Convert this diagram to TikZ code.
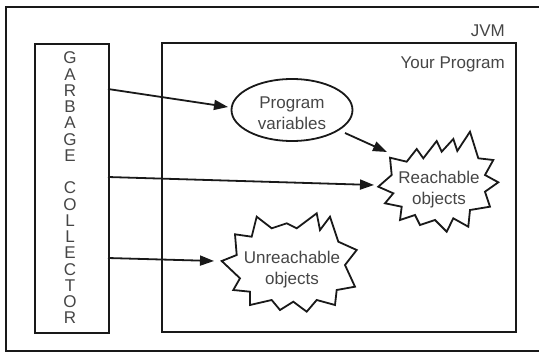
\documentclass[tikz,border=0pt]{standalone}
\usepackage{fontspec}
\setmainfont{Liberation Sans}
\usetikzlibrary{arrows.meta,shapes.geometric}
\definecolor{lin}{RGB}{25,25,25}
\definecolor{txt}{RGB}{70,70,70}
\tikzset{
  boxline/.style={draw=lin, line width=2pt},
  lbl/.style={text=txt, font=\fontsize{17}{21}\selectfont, inner sep=0pt},
  burst/.style={draw=lin, line width=1.8pt, line join=miter, fill=white},
  conn/.style={draw=lin, line width=1.8pt, -{Triangle[length=14pt,width=10pt]}},
}
\begin{document}
\begin{tikzpicture}[x=1pt,y=-1pt]
\clip (0,0) rectangle (539,356);
\fill[white] (0,0) rectangle (539,356);
% outer JVM frame (right side runs off the picture)
\draw[boxline] (560,7) -- (6,7) -- (6,351) -- (560,351);
\node[lbl, anchor=base east] (jvm) at (505,36) {JVM};
% Your Program box
\draw[boxline] (162,43) rectangle (516,332);
\node[lbl, anchor=base east] (yp) at (505,68) {Your Program};
% Garbage collector box
\node[boxline, minimum width=74pt, minimum height=289pt, anchor=north west, inner sep=0pt] (gc) at (34,43) {};
\node[text=txt, font=\fontsize{17}{16.25}\selectfont, align=center, inner sep=0pt] (gctext) at (70,188)
  {G\\A\\R\\B\\A\\G\\E\\[16.25pt]C\\O\\L\\L\\E\\C\\T\\O\\R};
% Program variables ellipse
\node[ellipse, draw=lin, line width=1.8pt, minimum width=121pt, minimum height=62pt, inner sep=0pt] (pv) at (292,110) {};
\node[lbl, align=center] (pvt) at (292,113) {Program\\variables};
% Reachable objects starburst
\draw[burst] (378.3,186.7) -- (391.7,175) -- (390,157.7) -- (406.7,161.7) -- (416.7,149) -- (423.3,158.3)
  -- (436.7,141) -- (441.7,151.7) -- (453.3,139) -- (457.3,151) -- (470,131.7) -- (478.3,158.3)
  -- (493.3,160) -- (485,175) -- (498.3,182.3) -- (485,191.7) -- (490,206.7) -- (470,210)
  -- (468.3,226.7) -- (453.3,218.3) -- (446.7,231.7) -- (435,220) -- (420,225) -- (415,215)
  -- (400,220) -- (401.7,206.7) -- (385,203.3) -- (393.3,193.3) -- cycle;
\node[lbl, align=center] (ro) at (439,190) {Reachable\\objects};
% Unreachable objects starburst
\draw[burst] (221.7,261) -- (236.7,255) -- (235,234.3) -- (251.7,236.7) -- (256.7,216.7) -- (271.7,228.3)
  -- (286.7,223.3) -- (296.7,228.3) -- (316.7,213.3) -- (320,230) -- (330,216.7) -- (338.3,241.7)
  -- (356.7,250) -- (345,265) -- (355,286.7) -- (336.7,290) -- (335,305) -- (316.7,300)
  -- (306.7,311.7) -- (293.3,301.7) -- (280,310) -- (271.7,300) -- (250,305) -- (250,291.7)
  -- (233.3,290) -- (240,278.3) -- cycle;
\node[lbl, align=center] (uo) at (292,270) {Unreachable\\objects};
% connector end points
\coordinate (s1) at (108,89);
\coordinate (t1) at (228,107);
\coordinate (s2) at (108,177);
\coordinate (t2) at (374,185);
\coordinate (s3) at (108,258);
\coordinate (t3) at (214,261);
\coordinate (s4) at (345,133);
\coordinate (t4) at (387,152);
\draw[conn] (s1) -- (t1);
\draw[conn] (s2) -- (t2);
\draw[conn] (s3) -- (t3);
\draw[conn] (s4) -- (t4);
\end{tikzpicture}
\end{document}
